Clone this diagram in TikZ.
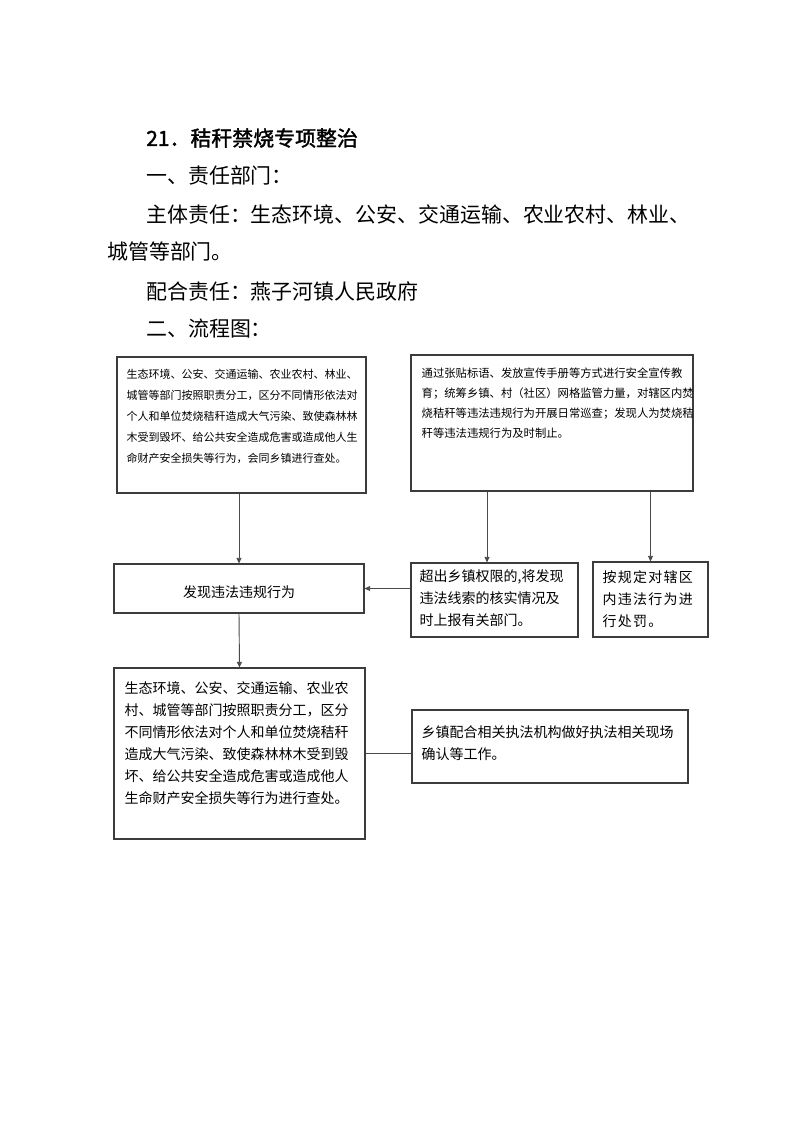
\documentclass[tikz,border=0pt]{standalone}
\usepackage{fontspec}
\setmainfont{Noto Sans CJK SC}
\newfontfamily\titlefont[FakeBold=1.6]{Noto Sans CJK SC}
\newfontfamily\widefont[LetterSpace=9]{Noto Sans CJK SC}
\usepackage{tikz}
\usetikzlibrary{arrows.meta,calc,fit,positioning}
\definecolor{StrawLine}{HTML}{3C3C3C}
\definecolor{StrawArrow}{HTML}{4A4A4A}
\tikzset{
  >=Triangle,
  flowbox/.style={draw=StrawLine,line width=0.9pt,inner sep=0pt,fill=white},
  boxtext/.style={anchor=north west,inner sep=0pt,align=left,text=black},
  heading/.style={anchor=west,inner sep=0pt,font=\fontsize{15.7pt}{18pt}\selectfont},
  flow/.style={-{Triangle[length=4.2pt,width=3.8pt]},line width=0.7pt,draw=StrawArrow},
  link/.style={line width=0.7pt,draw=StrawArrow},
  smallnote/.style={font=\fontsize{8.25pt}{15.75pt}\selectfont},
  mainnote/.style={font=\fontsize{10.5pt}{16.5pt}\selectfont}
}
\begin{document}
\begin{tikzpicture}[x=0.75pt,y=-0.75pt]
  \useasboundingbox[fill=white] (0,0) rectangle (793,1122);
  % headings
  \node[heading] (title) at (146,138) {\titlefont 21．秸秆禁烧专项整治};
  \node[heading] (dept) at (146,176) {一、责任部门：};
  \node[heading] (main) at (146,214) {主体责任：生态环境、公安、交通运输、农业农村、林业、};
  \node[heading] (main2) at (107,252) {城管等部门。};
  \node[heading] (assist) at (146,291) {配合责任：燕子河镇人民政府};
  \node[heading] (chart) at (146,329) {二、流程图：};
  % boxes
  \node[flowbox,fit={(117,357) (366,493)}] (joint) {};
  \node[flowbox,fit={(411,355) (693,491)}] (patrol) {};
  \node[flowbox,fit={(114,564) (364,613)}] (found) {};
  \node[flowbox,fit={(411,563) (578,637)}] (report) {};
  \node[flowbox,fit={(593,562) (708,637)}] (punish) {};
  \node[flowbox,fit={(114,668) (365,839)}] (handle) {};
  \node[flowbox,fit={(412,710) (688,783)}] (confirm) {};
  % box texts
  \node[boxtext,smallnote] (jointtext) at ([shift={(10,12)}]joint.north west)
    {生态环境、公安、交通运输、农业农村、林业、\\
     城管等部门按照职责分工，区分不同情形依法对\\
     个人和单位焚烧秸秆造成大气污染、致使森林林\\
     木受到毁坏、给公共安全造成危害或造成他人生\\
     命财产安全损失等行为，会同乡镇进行查处。};
  \node[boxtext,font=\fontsize{8.5pt}{15pt}\selectfont] (patroltext) at ([shift={(11,13)}]patrol.north west)
    {通过张贴标语、发放宣传手册等方式进行安全宣传教\\
     育；统筹乡镇、村（社区）网格监管力量，对辖区内焚\\
     烧秸秆等违法违规行为开展日常巡查；发现人为焚烧秸\\
     秆等违法违规行为及时制止。};
  \node[mainnote,inner sep=0pt] (foundtext) at ([yshift=-3]found.center) {发现违法违规行为};
  \node[boxtext,mainnote] (reporttext) at ([shift={(9,7)}]report.north west)
    {超出乡镇权限的,将发现\\
     违法线索的核实情况及\\
     时上报有关部门。};
  \node[boxtext,mainnote] (punishtext) at ([shift={(10,9)}]punish.north west)
    {\widefont 按规定对辖区\\
     \widefont 内违法行为进\\
     \widefont 行处罚。};
  \node[boxtext,mainnote] (handletext) at ([shift={(11,14)}]handle.north west)
    {生态环境、公安、交通运输、农业农\\
     村、城管等部门按照职责分工，区分\\
     不同情形依法对个人和单位焚烧秸秆\\
     造成大气污染、致使森林林木受到毁\\
     坏、给公共安全造成危害或造成他人\\
     生命财产安全损失等行为进行查处。};
  \node[boxtext,mainnote] (confirmtext) at ([shift={(10,16)}]confirm.north west)
    {乡镇配合相关执法机构做好执法相关现场\\
     确认等工作。};
  % connectors
  \coordinate (reporttop) at ($(report.north)+(-7.5,0)$);
  \draw[flow] (found.north |- joint.south) -- (found.north);
  \draw[flow] (reporttop |- patrol.south) -- (reporttop);
  \draw[flow] (punish.north |- patrol.south) -- (punish.north);
  \draw[flow] (report.west |- found.east) -- (found.east);
  \draw[flow] (found.south) -- (handle.north);
  \draw[link] (handle.east) -- (handle.east -| confirm.west);
\end{tikzpicture}
\end{document}
